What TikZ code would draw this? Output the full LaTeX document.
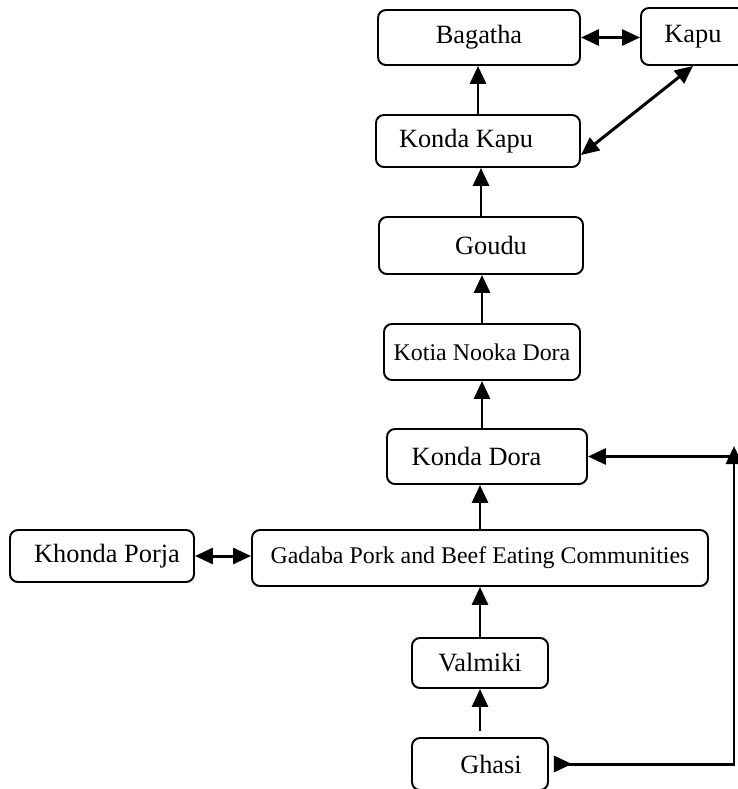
\documentclass[tikz,border=0pt]{standalone}
\usepackage{fontspec}
\setmainfont{Liberation Serif}
\usepackage{tikz}
\usetikzlibrary{arrows.meta,positioning,calc}
\tikzset{
  caste/.style={draw=black,fill=white,line width=1.1pt,rounded corners=4.5pt,
                align=center,inner sep=2pt,
                font=\fontsize{15}{18}\selectfont},
  castesm/.style={caste,font=\fontsize{13.6}{16}\selectfont},
  uparr/.style={-{Triangle[length=3.6mm,width=3.2mm]},line width=1.7pt},
  bothdir/.style={{Triangle[length=3.6mm,width=3.2mm]}-{Triangle[length=3.6mm,width=3.2mm]},
                  line width=1.7pt}
}
\begin{document}
\begin{tikzpicture}[x=1cm,y=1cm]
    \path[use as bounding box] (0,0) rectangle (14.74,-15.78);

    \node[caste,minimum width=4.04cm,minimum height=1.1cm] (bagatha) at (9.58,-0.75)
      {Bagatha};
    \node[caste,minimum width=2.08cm,minimum height=1.14cm] (kapu) at (13.86,-0.73)
      {Kapu};
    \node[caste,minimum width=4.08cm,minimum height=1.04cm] (kkapu) at (9.56,-2.82)
      {Konda Kapu\hspace*{0.48cm}};
    \node[caste,minimum width=4.08cm,minimum height=1.14cm] (goudu) at (9.62,-4.91)
      {\hspace*{0.4cm}Goudu};
    \node[castesm,minimum width=3.92cm,minimum height=1.12cm] (kotia) at (9.64,-7.04)
      {Kotia Nooka Dora};
    \node[caste,minimum width=4.0cm,minimum height=1.1cm] (kdora) at (9.74,-9.13)
      {Konda Dora\hspace*{0.42cm}};
    \node[castesm,minimum width=9.12cm,minimum height=1.12cm] (gadaba) at (9.6,-11.16)
      {Gadaba Pork and Beef Eating Communities};
    \node[caste,minimum width=3.68cm,minimum height=1.04cm] (khonda) at (2.04,-11.12)
      {\hspace*{0.2cm}Khonda Porja};
    \node[caste,minimum width=2.72cm,minimum height=1.0cm] (valmiki) at (9.6,-13.26)
      {Valmiki};
    \node[caste,minimum width=2.72cm,minimum height=1.04cm] (ghasi) at (9.6,-15.28)
      {\hspace*{0.44cm}Ghasi};

    \coordinate (looptop) at (14.68,-8.92);

    % upward chain
    \draw[uparr] (kkapu.north) -- (kkapu.north |- bagatha.south);
    \draw[uparr] (goudu.north) -- (goudu.north |- kkapu.south);
    \draw[uparr] (kotia.north) -- (kotia.north |- goudu.south);
    \draw[uparr] (kotia.south |- kdora.north) -- (kotia.south);
    \draw[uparr] (gadaba.north) -- (gadaba.north |- kdora.south);
    \draw[uparr] (valmiki.north) -- (valmiki.north |- gadaba.south);
    \draw[uparr] ([yshift=0.12cm]ghasi.north) -- (ghasi.north |- valmiki.south);

    % two-way links
    \draw[bothdir] (bagatha.east) -- (bagatha.east -| kapu.west);
    \draw[bothdir] ([yshift=-0.28cm]kkapu.east) -- (kapu.south);
    \draw[bothdir] (khonda.east) -- (khonda.east -| gadaba.west);

    % loop back from Ghasi
    \draw[line width=1.7pt,{Triangle[length=3.6mm,width=3.2mm,reversed]}-{Triangle[length=3.6mm,width=3.2mm]}]
      ([xshift=0.1cm]ghasi.east) -| (looptop);
    \draw[uparr] (kdora.east -| looptop) -- (kdora.east);
  \end{tikzpicture}
\end{document}
